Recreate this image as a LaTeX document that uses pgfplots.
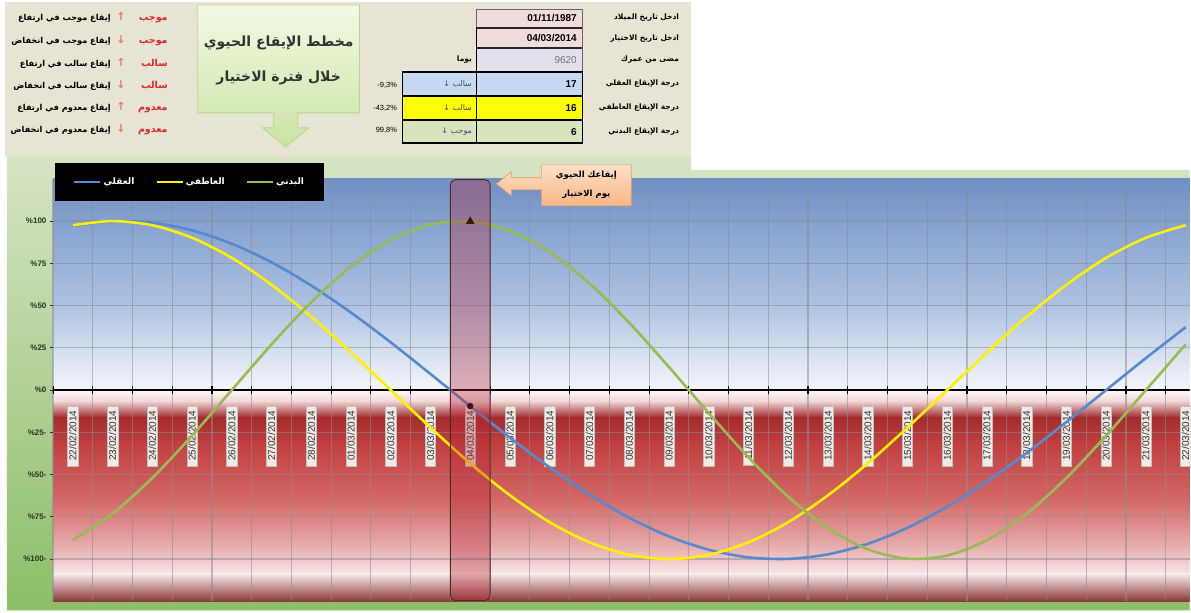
\documentclass[border=0pt]{standalone}
\usepackage{fontspec}
\setmainfont{Liberation Sans}
\newfontfamily\arabicfont[Script=Arabic]{DejaVu Sans}
\newfontfamily\symfont{DejaVu Sans}
\usepackage{pgfplots}
\pgfplotsset{compat=1.18}
\usepackage{pgfplotstable}
\TeXXeTstate=1

\definecolor{beigebg}{RGB}{231,228,211}
\definecolor{greentop}{RGB}{214,228,196}
\definecolor{greenbot}{RGB}{140,190,104}
\definecolor{blue1}{RGB}{112,144,196}
\definecolor{blue2}{RGB}{173,194,225}
\definecolor{blue3}{RGB}{245,247,251}
\definecolor{red0}{RGB}{252,246,246}
\definecolor{red1}{RGB}{240,214,214}
\definecolor{red2}{RGB}{163,43,44}
\definecolor{red3}{RGB}{194,64,63}
\definecolor{red4}{RGB}{210,104,102}
\definecolor{red5}{RGB}{232,178,177}
\definecolor{red6}{RGB}{247,233,233}
\definecolor{red7}{RGB}{138,56,56}
\definecolor{intelc}{RGB}{85,138,207}
\definecolor{emoc}{RGB}{255,240,0}
\definecolor{physc}{RGB}{150,188,82}
\definecolor{gridc}{RGB}{140,140,150}
\definecolor{lblbg}{RGB}{238,235,229}
\definecolor{redw}{RGB}{220,40,40}
\definecolor{arrc}{RGB}{235,120,100}
\definecolor{pinkcell}{RGB}{242,220,219}
\definecolor{lavcell}{RGB}{228,223,236}
\definecolor{bluecell}{RGB}{197,217,241}
\definecolor{yelcell}{RGB}{255,255,0}
\definecolor{grncell}{RGB}{216,228,188}
\definecolor{calltop}{RGB}{253,224,200}
\definecolor{callbot}{RGB}{248,182,132}
\definecolor{gboxtop}{RGB}{242,249,228}
\definecolor{gboxbot}{RGB}{202,228,162}
\definecolor{hl}{RGB}{180,40,55}
\definecolor{celltxt}{RGB}{60,80,110}
\definecolor{ytxt}{RGB}{40,55,30}

\pgfplotstableread{
i phys emo intel
0 -88.8 97.5 97.2
1 -73.1 100 99.9
2 -52.0 97.5 99.0
3 -27.0 90.1 94.5
4 0 78.2 86.6
5 27.0 62.3 75.6
6 52.0 43.4 61.8
7 73.1 22.2 45.8
8 88.8 0 28.2
9 97.9 -22.2 9.5
10 99.8 -43.4 -9.5
11 94.2 -62.3 -28.2
12 81.7 -78.2 -45.8
13 63.1 -90.1 -61.8
14 39.8 -97.5 -75.6
15 13.6 -100 -86.6
16 -13.6 -97.5 -94.5
17 -39.8 -90.1 -99.0
18 -63.1 -78.2 -99.9
19 -81.7 -62.3 -97.2
20 -94.2 -43.4 -91.0
21 -99.8 -22.2 -81.5
22 -97.9 0 -69.0
23 -88.8 22.2 -54.1
24 -73.1 43.4 -37.2
25 -52.0 62.3 -18.9
26 -27.0 78.2 0
27 0 90.1 18.9
28 27.0 97.5 37.2
}\bio

\begin{document}
\begin{tikzpicture}
\begin{scope}[x=1pt,y=-1pt]
\path[use as bounding box, fill=white] (0,0) rectangle (1191,613);
\fill[beigebg] (5,2) rectangle (692,157);
\shade[top color=greentop, bottom color=greenbot] (7,157) -- (692,157) -- (692,170) -- (1191,170) -- (1191,611) -- (7,611) -- cycle;
\shade[top color=blue1,bottom color=blue2] (53,179) rectangle (1191,305);
\shade[top color=blue2,bottom color=blue3] (53,304.5) rectangle (1191,391);
\shade[top color=red0,bottom color=red1] (53,391) rectangle (1191,402);
\shade[top color=red1,bottom color=red2] (53,401.5) rectangle (1191,418);
\shade[top color=red2,bottom color=red3] (53,417.5) rectangle (1191,445);
\shade[top color=red3,bottom color=red4] (53,444.5) rectangle (1191,500);
\shade[top color=red4,bottom color=red5] (53,499.5) rectangle (1191,550);
\shade[top color=red5,bottom color=red6] (53,549.5) rectangle (1191,575);
\shade[top color=red6,bottom color=red7] (53,574.5) rectangle (1191,602);
\end{scope}

\begin{axis}[
  at={(53pt,-179pt)}, anchor=north west,
  scale only axis, width=1138pt, height=423pt,
  xmin=-0.5, xmax=28.1, ymin=-125, ymax=125,
  axis line style={draw=none},
  xtick={0,...,28},
  xticklabels={22/02/2014,23/02/2014,24/02/2014,25/02/2014,26/02/2014,27/02/2014,28/02/2014,01/03/2014,02/03/2014,03/03/2014,04/03/2014,05/03/2014,06/03/2014,07/03/2014,08/03/2014,09/03/2014,10/03/2014,11/03/2014,12/03/2014,13/03/2014,14/03/2014,15/03/2014,16/03/2014,17/03/2014,18/03/2014,19/03/2014,20/03/2014,21/03/2014,22/03/2014},
  x tick style={draw=none},
  minor xtick={-0.5,0.5,...,27.5},
  xminorgrids=true,
  ymajorgrids=true,
  ytick={-100,-75,...,100},
  yticklabels={\%100-,\%75-,\%50-,\%25-,\%0,\%25,\%50,\%75,\%100},
  minor x grid style={gridc, opacity=0.55, line width=1.2pt},
  major grid style={gridc, opacity=0.55, line width=1.2pt},
  y tick style={draw=black!80, line width=0.6pt},
  ytick pos=left, tick align=outside, major tick length=3pt,
  xticklabel shift=-199pt,
  xticklabel style={rotate=90, anchor=east, font=\fontsize{10}{10}\selectfont, fill=lblbg, draw=black!25, text=black!80, inner xsep=5pt, inner ysep=1.5pt},
  yticklabel style={font=\bfseries\fontsize{8}{8}\selectfont, text=ytxt},
  legend style={at={(0.0018,1.038)}, anchor=north west, fill=black, draw=none, text=white, font=\arabicfont\bfseries\fontsize{9}{10}\selectfont, legend columns=3, inner xsep=18pt, inner ysep=13pt, /tikz/every even column/.append style={column sep=19pt}},
  legend image code/.code={\draw[#1, line width=2.5pt] (0pt,0pt) -- (26pt,0pt);},
]
\draw[black, line width=1.8pt] (axis cs:-0.5,0) -- (axis cs:28.1,0);
\pgfplotsinvokeforeach{-0.5,0.5,...,27.5}{\draw[black, line width=1.2pt] (axis cs:#1,-2.5) -- (axis cs:#1,2.5);}
\addplot[intelc, line width=2.6pt, smooth] table[x=i, y=intel] {\bio};
\addlegendentry{\beginR العقلي\endR}
\addplot[emoc, line width=2.6pt, smooth] table[x=i, y=emo] {\bio};
\addlegendentry{\beginR العاطفي\endR}
\addplot[physc, line width=2.6pt, smooth] table[x=i, y=phys] {\bio};
\addlegendentry{\beginR البدني\endR}
\draw[draw={rgb,255:red,80;green,40;blue,40}, line width=0.9pt, fill=hl, fill opacity=0.35, rounded corners=5pt] (axis cs:9.5,124.5) rectangle (axis cs:10.5,-124.5);
\addplot[only marks, mark=triangle*, mark size=4.5pt, color={rgb,255:red,60;green,20;blue,10}, forget plot] coordinates {(10,99.8)};
\addplot[only marks, mark=*, mark size=3pt, color={rgb,255:red,60;green,20;blue,10}, forget plot] coordinates {(10,-9.5)};
\end{axis}

\begin{scope}[x=1pt,y=-1pt]
% callout
\shade[top color=calltop, bottom color=callbot, draw={rgb,255:red,225;green,160;blue,110}, line width=0.6pt] (542,165) -- (632,165) -- (632,206) -- (542,206) -- (542,190) -- (512,190) -- (512,196) -- (497,184) -- (512,172) -- (512,178) -- (542,178) -- cycle;
\node[font=\arabicfont\bfseries\fontsize{8.5}{9}\selectfont] at (587,176) {\beginR إيقاعك الحيوي\endR};
\node[font=\arabicfont\bfseries\fontsize{8.5}{9}\selectfont] at (587,195) {\beginR يوم الاختيار\endR};
% green box
\shade[top color=gboxtop, bottom color=gboxbot, draw={rgb,255:red,185;green,215;blue,140}, line width=0.8pt] (198,5) -- (360,5) -- (360,113) -- (298,113) -- (298,128) -- (309,128) -- (286,147) -- (263,128) -- (274,128) -- (274,113) -- (198,113) -- cycle;
\node[font=\arabicfont\bfseries\fontsize{14}{14}\selectfont, text=black!80] at (279,43) {\beginR مخطط الإيقاع الحيوي\endR};
\node[font=\arabicfont\bfseries\fontsize{14}{14}\selectfont, text=black!80] at (279,78) {\beginR خلال فترة الاختيار\endR};
% top-left key
\foreach \yy/\w/\a/\t in {17/موجب/↑/إيقاع موجب في ارتفاع, 40/موجب/↓/إيقاع موجب في انخفاض, 63/سالب/↑/إيقاع سالب في ارتفاع, 85/سالب/↓/إيقاع سالب في انخفاض, 107/معدوم/↑/إيقاع معدوم في ارتفاع, 129/معدوم/↓/إيقاع معدوم في انخفاض}{
  \node[anchor=base east, font=\arabicfont\bfseries\fontsize{9.5}{10}\selectfont, inner sep=0pt, text=redw] at (168,\yy+3.5) {\beginR\w\endR};
  \node[anchor=base, font=\symfont\bfseries\fontsize{11}{11}\selectfont, inner sep=0pt, text=arrc] at (121,\yy+4) {\a};
  \node[anchor=base east, font=\arabicfont\bfseries\fontsize{8.2}{10}\selectfont, inner sep=0pt, text=black] at (111,\yy+3.5) {\beginR\t\endR};
}
% table
\fill[pinkcell] (477,9) rectangle (583,28);
\fill[pinkcell] (477,28) rectangle (583,48);
\fill[lavcell] (477,48) rectangle (583,72);
\fill[bluecell] (403,72) rectangle (583,96);
\fill[yelcell] (403,96) rectangle (583,120);
\fill[grncell] (403,120) rectangle (583,143);
\draw[black!60, line width=0.6pt] (477,9) rectangle (583,28);
\draw[black!60, line width=0.6pt] (583,28) -- (583,72);
\draw[black!85, line width=1.2pt] (477,28) -- (583,28);
\draw[black!85, line width=1.2pt] (477,48) -- (583,48);
\draw[black, line width=1.4pt] (403,72) rectangle (583,143);
\draw[black, line width=1.4pt] (403,96) -- (583,96) (403,120) -- (583,120);
\draw[black, line width=1.4pt] (477,28) -- (477,143);
\node[anchor=east, font=\bfseries\fontsize{10}{10}\selectfont] at (581,18) {01/11/1987};
\node[anchor=east, font=\bfseries\fontsize{10}{10}\selectfont] at (581,38) {04/03/2014};
\node[anchor=east, font=\fontsize{10}{10}\selectfont, text=black!55] at (581,60) {9620};
\node[anchor=east, font=\bfseries\fontsize{10}{10}\selectfont] at (581,84) {17};
\node[anchor=east, font=\bfseries\fontsize{10}{10}\selectfont] at (581,108) {16};
\node[anchor=east, font=\bfseries\fontsize{10}{10}\selectfont] at (581,132) {6};
\node[anchor=east, font=\arabicfont\bfseries\fontsize{7.5}{8}\selectfont] at (476,60) {\beginR يوما\endR};
\node[anchor=east, font=\arabicfont\fontsize{8}{8}\selectfont, text=celltxt] at (476,84) {\beginR سالب  ↓\endR};
\node[anchor=east, font=\arabicfont\fontsize{8}{8}\selectfont, text=celltxt] at (476,108) {\beginR سالب  ↓\endR};
\node[anchor=east, font=\arabicfont\fontsize{8}{8}\selectfont, text=celltxt] at (476,132) {\beginR موجب  ↓\endR};
\node[anchor=east, font=\fontsize{7.5}{8}\selectfont] at (401,85) {-9,3\%};
\node[anchor=east, font=\fontsize{7.5}{8}\selectfont] at (401,108) {-43,2\%};
\node[anchor=east, font=\fontsize{7.5}{8}\selectfont] at (401,131) {99,8\%};
\foreach \yy/\t in {18/ادخل تاريخ الميلاد, 39/ادخل تاريخ الاختيار, 60/مضى من عمرك, 84/درجة الإيقاع العقلي, 108/درجة الإيقاع العاطفي, 132/درجة الإيقاع البدني}{
  \node[anchor=east, font=\arabicfont\bfseries\fontsize{7.5}{8}\selectfont, inner sep=0pt] at (680,\yy) {\beginR\t\endR};
}
\end{scope}
\end{tikzpicture}
\end{document}
